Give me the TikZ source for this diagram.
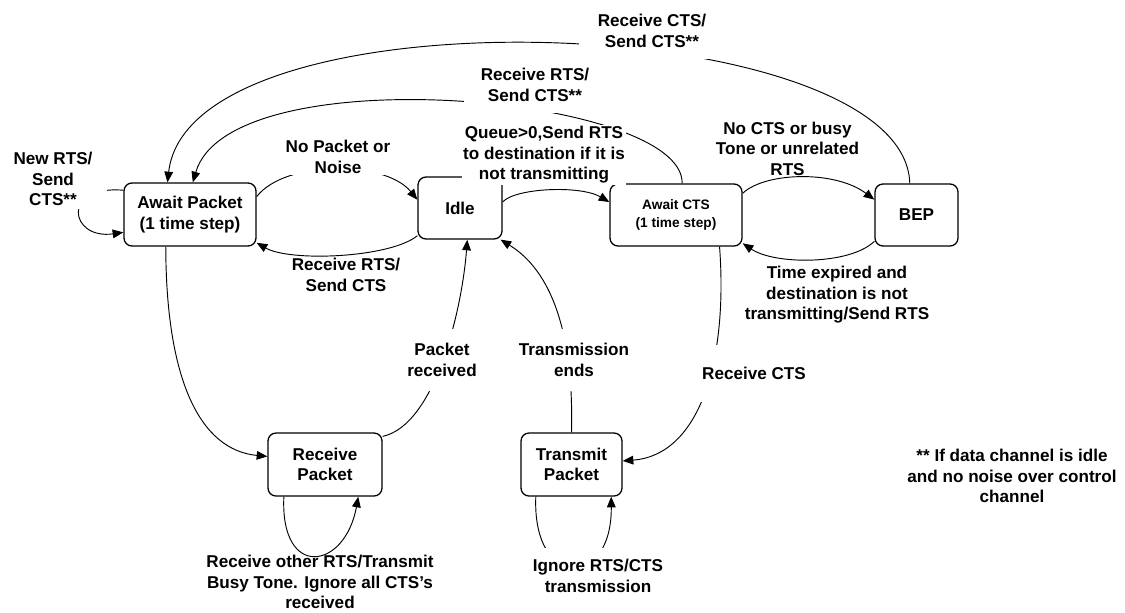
\documentclass[tikz,border=0pt]{standalone}
\usepackage{fontspec}
\setmainfont{Liberation Sans}
\usetikzlibrary{arrows.meta}

\begin{document}
\begin{tikzpicture}[
  x=0.03cm,
  y=-0.03cm,
  font=\bfseries\fontsize{14.6}{17.5}\selectfont,
  line/.style={draw=black,line width=0.8pt},
  arrow/.style={line,-{Triangle[length=3.2mm,width=2.6mm]}},
  state/.style={draw=black,line width=1.1pt,rounded corners=2.4mm,align=center,
                minimum height=1.89cm,inner sep=2pt},
  cond/.style={align=center,inner sep=1pt},
  condgap/.style={cond,fill=white}
]
\useasboundingbox (0,0) rectangle (1125,612);

% =====================================================================
% States
% =====================================================================
\node[state,minimum width=3.96cm] (ap) at (190,214.5) {Await Packet\\(1 time step)};
\node[state,minimum width=2.52cm,minimum height=1.86cm] (idle) at (460,208) {Idle};
\node[state,minimum width=3.96cm,minimum height=1.86cm,
      font=\bfseries\fontsize{11.7}{15.3}\selectfont] (acts) at (676,215) {Await CTS\\(1 time step)};
\node[state,minimum width=2.49cm,minimum height=1.86cm] (bep) at (916.5,215) {BEP};
\node[state,minimum width=3.42cm] (rp) at (325,464.5) {Receive\\Packet};
\node[state,minimum width=3.03cm] (tp) at (571.5,464.5) {Transmit\\Packet};

% =====================================================================
% Transitions (top row)
% =====================================================================
\draw[arrow] (bep.102) .. controls (905,10) and (190,-15) .. (ap.125);
\draw[arrow] (acts.79) .. controls (684,95) and (230,55) .. (ap.85);
\draw[arrow] (ap.15) .. controls (285,160) and (385,160) .. (idle.169);
\draw[arrow] (idle.213) .. controls (390,258) and (290,262) .. (ap.337);
\draw[arrow] (idle.8) .. controls (515,188) and (580,185) .. (acts.169);
\draw[arrow] (acts.18) .. controls (765,172) and (835,170) .. (bep.160);
\draw[arrow] (bep.212) .. controls (850,265) and (775,265) .. (acts.337);
\draw[arrow] (ap.160) .. controls (60,185) and (70,240) .. (ap.195);

% =====================================================================
% Transitions to / from the bottom row
% =====================================================================
\draw[arrow] (ap.233) .. controls (166,380) and (200,450) .. (rp.172);
\draw[arrow] (rp.26) .. controls (435,425) and (462,310) .. (idle.283);
\draw[arrow] (tp.north) .. controls (574,330) and (550,270) .. (idle.322);
\draw[arrow] (acts.324) .. controls (728,360) and (700,455) .. (tp.4);
\draw[arrow] (rp.218) .. controls (280,580) and (345,570) .. (rp.316);
\draw[arrow] (tp.222) .. controls (532,590) and (612,590) .. (tp.321);

% =====================================================================
% Conditions (white ones cut the curves they sit on)
% =====================================================================
\node[condgap,inner xsep=16pt,inner ysep=10pt] (lrcts) at (652,31) {Receive CTS/\\Send CTS**};
\node[condgap,inner xsep=14pt,inner ysep=10pt] (lrrts) at (535,85) {Receive RTS/\\Send CTS**};
\node[condgap] (lqueue) at (544,155) {Queue>0,Send RTS\\to destination if it is\\not transmitting};
\node[condgap] (lnopkt) at (338,157) {No Packet or\\Noise};
\node[cond] (lrrtsb) at (346,275) {Receive RTS/\\Send CTS};
\node[condgap,inner xsep=12pt,inner ysep=3pt] (lnewrts) at (53,179) {New RTS/\\Send\\CTS**};
\node[cond] (lnocts) at (787.5,148.5) {No CTS or busy\\Tone or unrelated\\RTS};
\node[cond] (ltime) at (837,295) {Time expired and\\destination is not\\transmitting/Send RTS};
\node[condgap,inner ysep=12pt] (lpkt) at (442,360) {Packet\\received};
\node[condgap,inner ysep=12pt] (ltxend) at (574,360) {Transmission\\ends};
\node[condgap,minimum height=1.71cm,inner xsep=3pt] (lrcvcts) at (754,373) {Receive CTS};
\node[cond] (lother) at (320,582) {Receive other RTS/Transmit\\Busy Tone. Ignore all CTS’s\\received};
\node[condgap,inner ysep=10pt] (lignore) at (598,576) {Ignore RTS/CTS\\transmission};

% footnote
\node[cond] (note) at (1012,476) {** If data channel is idle\\and no noise over control\\channel};

\end{tikzpicture}
\end{document}
